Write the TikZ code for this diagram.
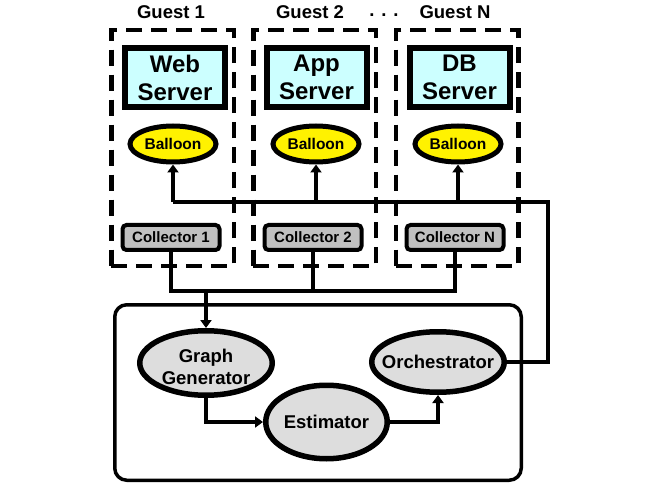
\documentclass[tikz,border=0pt]{standalone}
\usepackage{fontspec}
\setmainfont{Liberation Sans}
\usetikzlibrary{arrows.meta, shapes.geometric, calc}
\definecolor{SrvFill}{HTML}{CCFFFF}
\definecolor{ProcFill}{HTML}{DDDDDD}
\definecolor{ColFill}{HTML}{C0C0C0}
\tikzset{
  guestbox/.style={draw, line width=4.5pt, dash pattern=on 16pt off 9pt,
    minimum width=122.5pt, minimum height=235.5pt},
  srvbox/.style={draw, line width=6pt, fill=SrvFill, align=center,
    minimum width=100pt, minimum height=59pt, inner sep=0pt,
    font=\bfseries\fontsize{24}{28}\selectfont},
  balloon/.style={ellipse, draw, line width=5pt, fill=yellow, inner sep=0pt,
    minimum width=86pt, minimum height=36pt,
    font=\bfseries\fontsize{15.5}{18}\selectfont},
  colbox/.style={draw, line width=4pt, rounded corners=4pt, fill=ColFill,
    minimum width=97pt, minimum height=25pt, inner sep=0pt,
    font=\bfseries\fontsize{15}{18}\selectfont},
  proc/.style={ellipse, draw, line width=5.5pt, fill=ProcFill, align=center,
    inner xsep=-12pt, inner ysep=0pt,
    font=\bfseries\fontsize{18.5}{22}\selectfont},
  title/.style={font=\bfseries\fontsize{18.5}{22}\selectfont, inner sep=0pt},
  wire/.style={line width=4pt},
  feed/.style={line width=4pt, -{Triangle[length=8pt, width=11pt]}},
}
\begin{document}
\begin{tikzpicture}[x=1pt, y=-1pt]
  \useasboundingbox (0,0) rectangle (654,484);

  % guests
  \node[guestbox] (g1) at (172.5,148) {};
  \node[guestbox] (g2) at (314.5,148) {};
  \node[guestbox] (gN) at (457,148) {};
  \node[title] (t1) at (171,12) {Guest 1};
  \node[title] (t2) at (310,12) {Guest 2};
  \node[title] (tN) at (455,12) {Guest N};
  \node[title] (dots) at (384,15) {. . .};

  \node[srvbox] (web) at (175,77.5) {Web\\Server};
  \node[srvbox] (app) at (316.5,77.5) {App\\Server};
  \node[srvbox] (db) at (459.5,77.5) {DB\\Server};

  \node[balloon] (b1) at (173,144) {Balloon};
  \node[balloon] (b2) at (316,144) {Balloon};
  \node[balloon] (bN) at (458,144) {Balloon};

  \node[colbox] (c1) at (171,237.5) {Collector 1};
  \node[colbox] (c2) at (313,237.5) {Collector 2};
  \node[colbox] (cN) at (455,237.5) {Collector N};

  % controller
  \node[draw, line width=3.5pt, rounded corners=12pt, minimum width=406.5pt,
    minimum height=175.5pt] (ctrl) at (318,392.5) {};
  \node[proc, minimum width=132.5pt, minimum height=64.5pt] (gg) at (206,363) {};
  \node[title, align=center] (ggt) at (206,367) {Graph\\Generator};
  \node[proc, minimum width=121.5pt, minimum height=73.5pt] (est) at (326.5,422) {Estimator};
  \node[proc, minimum width=132.5pt, minimum height=60.5pt] (orch) at (438,362) {Orchestrator};

  \coordinate (bus) at (206,291);
  \coordinate (fb) at (548,202);

  \draw[wire] (c1.south) -- (c1.south |- bus) -- (cN.south |- bus) -- (cN.south);
  \draw[wire] (c2.south) -- (c2.south |- bus);
  \draw[feed] (bus) -- (gg.north);
  \draw[feed] (gg.south) |- (est.west);
  \draw[feed] (est.east) -| (orch.south);

  \draw[wire, line width=4.5pt] (orch.east) -| (fb) -- (b1.south |- fb);
  \foreach \b in {b1, b2, bN}
    \draw[feed] (\b.south |- fb) -- (\b.south);
\end{tikzpicture}
\end{document}
